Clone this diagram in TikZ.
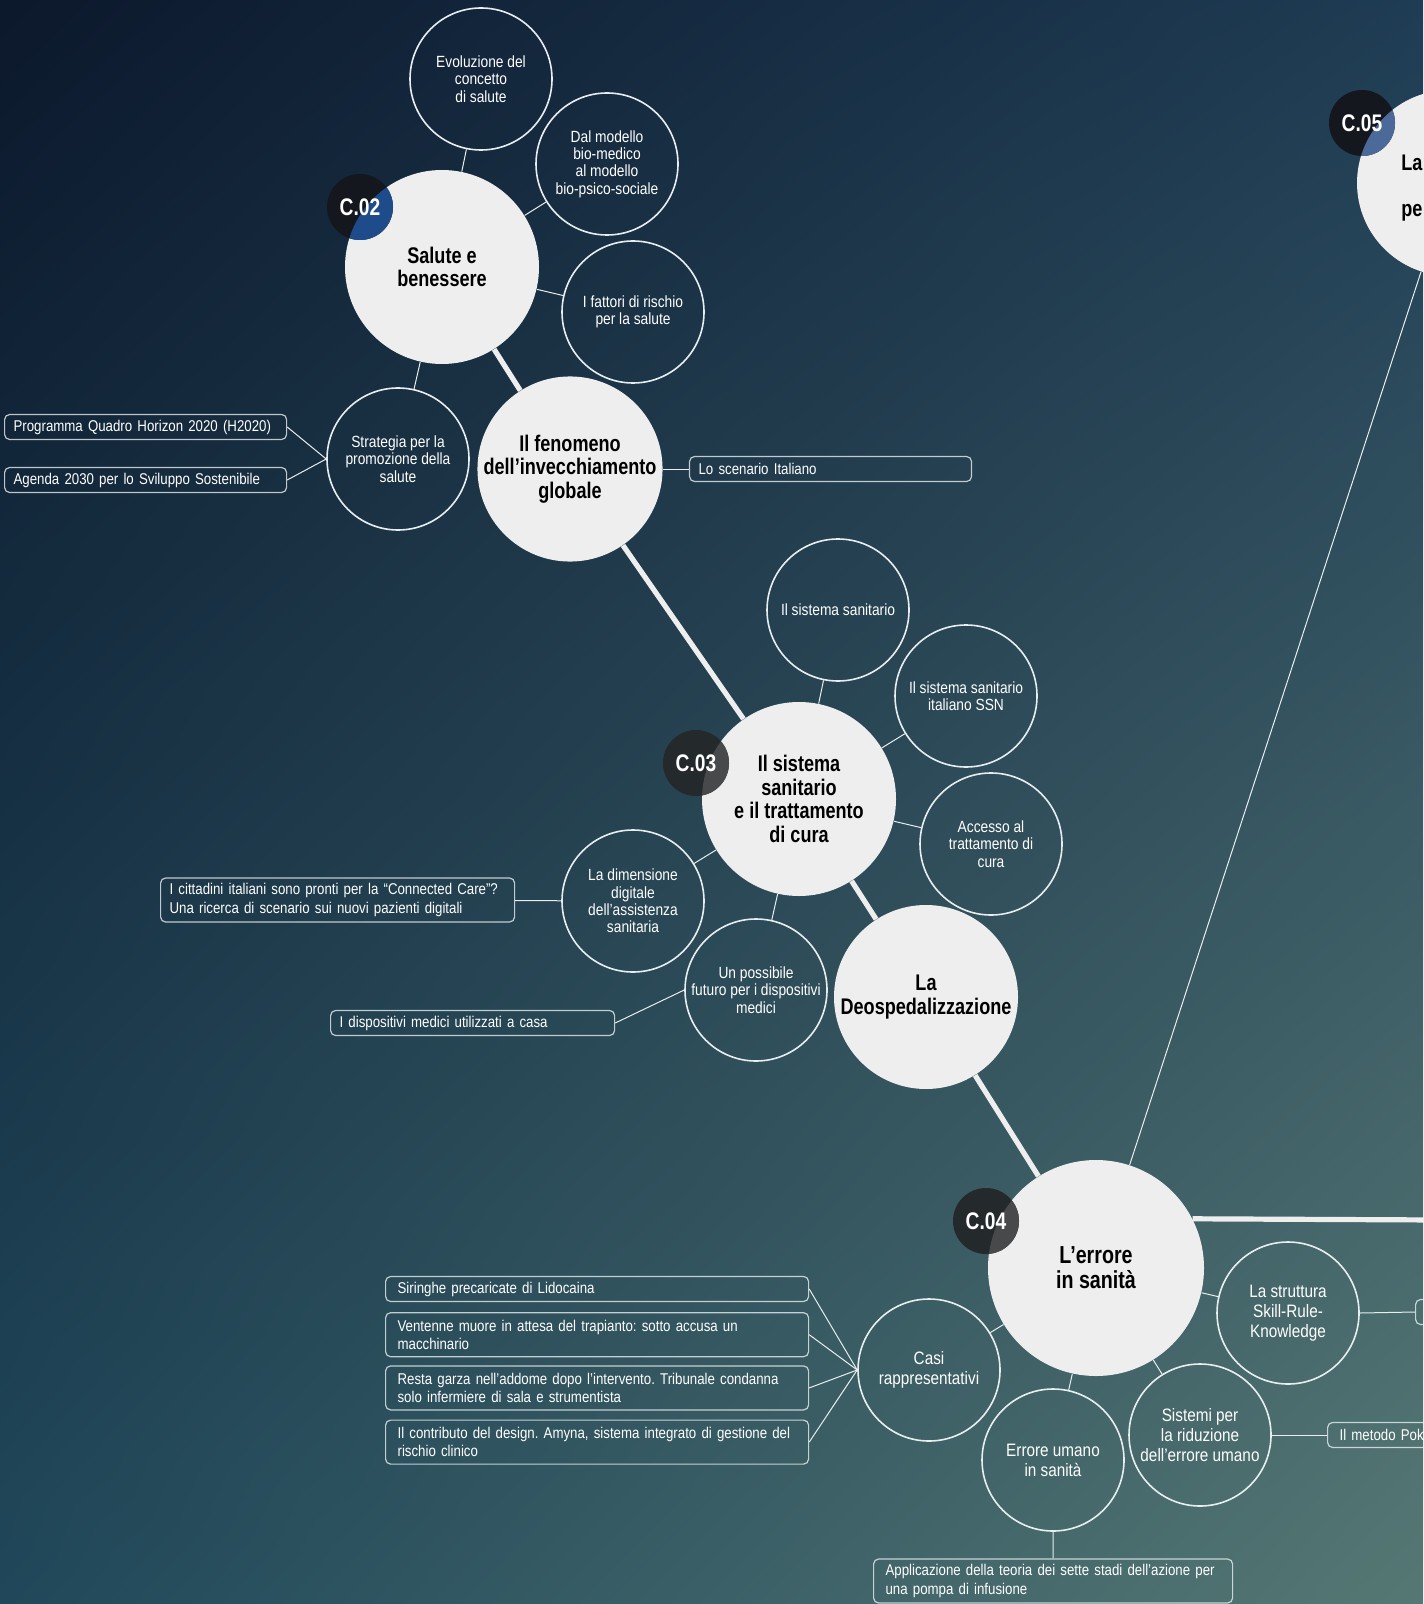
\documentclass[tikz,border=0pt]{standalone}
\usepackage{fontspec}
\setmainfont{Liberation Sans}[FakeStretch=0.85]
\newfontfamily\headfont{Liberation Sans}[FakeStretch=0.8]
\usetikzlibrary{positioning,calc,shadings}
\definecolor{bgTL}{RGB}{12,24,44}
\definecolor{bgTR}{RGB}{30,60,84}
\definecolor{bgBL}{RGB}{32,72,90}
\definecolor{bgBR}{RGB}{86,120,116}
\definecolor{cFill}{RGB}{238,238,238}
\definecolor{cLine}{RGB}{232,238,240}
\definecolor{bDark}{RGB}{20,23,30}
\definecolor{bGrey}{RGB}{36,41,43}
\definecolor{ovBlue}{RGB}{30,75,138}
\definecolor{ovSlate}{RGB}{75,106,154}
\definecolor{ovGrey}{RGB}{72,73,74}
\tikzset{
  chap/.style={circle, fill=cFill, minimum size=#1, inner sep=0pt, align=center,
               text=black, font=\headfont\bfseries\fontsize{11.3}{11.7}\selectfont},
  chap/.default=97pt,
  topic/.style={circle, draw=cLine, line width=0.8pt, minimum size=71pt, inner sep=0pt,
                align=center, text=white, font=\fontsize{8.1}{8.7}\selectfont},
  topicL/.style={topic, font=\fontsize{9}{9.9}\selectfont},
  refbox/.style={rectangle, rounded corners=2.5pt, draw=cLine, draw opacity=0.8,
                 line width=0.6pt, anchor=west, align=left, text=white,
                 inner xsep=4.5pt, inner ysep=0pt, minimum height=12.5pt,
                 font=\fontsize{7.8}{9.2}\selectfont\frenchspacing},
  refbox2/.style={refbox, minimum height=22pt},
  spine/.style={draw=cFill, line width=2.6pt},
  twig/.style={draw=cLine, line width=0.5pt},
  badge/.style={circle, fill=#1, minimum size=33pt, inner sep=0pt},
  badgetxt/.style={text=white, inner sep=0pt,
                   font=\headfont\bfseries\fontsize{12}{12}\selectfont},
}
% badge of a chapter: name, position, chapter node, chapter radius,
% badge colour, colour where it lies on the chapter, label
\newcommand{\ChapBadge}[7]{%
  \node[badge=#5] (#1) at (#2) {};
  \begin{scope}
    \clip (#3.center) circle[radius=#4];
    \fill[#6] (#1.center) circle[radius=16.5pt];
  \end{scope}
  \node[badgetxt] (#1-t) at (#1.center) {#7};}

\begin{document}
\begin{tikzpicture}[x=0.5pt, y=-0.5pt]

  \useasboundingbox (0,0) rectangle (1423,1604);
  \shade[upper left=bgTL, upper right=bgTR, lower left=bgBL, lower right=bgBR]
    (0,0) rectangle (1423,1604);

  %====================== CHAPTERS ======================
  \node[chap] (sal) at (442,267) {Salute e\\benessere};
  \node[chap=92pt] (fen) at (570,469) {Il fenomeno\\dell’invecchiamento\\globale};
  \node[chap] (cura) at (799,799) {Il sistema\\sanitario\\e il trattamento\\di cura};
  \node[chap=92pt] (deo) at (926,997) {La\\Deospedalizzazione};
  \node[chap=108pt, font=\headfont\bfseries\fontsize{12.3}{12.4}\selectfont]
    (err) at (1096,1268) {L’errore\\in sanità};
  \node[chap=93pt] (cap5) at (1450,183) {};
  \node[anchor=west, align=left, inner sep=0pt,
        font=\headfont\bfseries\fontsize{11.3}{11.7}\selectfont]
    (cap5-t) at (1401,188) {La\\[11.7pt]pe};

  %====================== C.02 SIDE ======================
  \node[topic] (evo) at (481,79) {Evoluzione del\\concetto\\di salute};
  \node[topic] (dal) at (607,164) {Dal modello\\bio-medico\\al modello\\bio-psico-sociale};
  \node[topic] (fat) at (633,312) {I fattori di rischio\\per la salute};
  \node[topic] (strat) at (398,459) {Strategia per la\\promozione della\\salute};

  \node[refbox, text width=132pt] (prog) at (4,427) {Programma Quadro Horizon 2020 (H2020)};
  \node[refbox, text width=132pt] (agen) at (4,480) {Agenda 2030 per lo Sviluppo Sostenibile};
  \node[refbox, text width=132pt, right=13pt of fen] (scen) {Lo scenario Italiano};

  %====================== C.03 SIDE ======================
  \node[topic] (sis) at (838,610) {Il sistema sanitario};
  \node[topic] (ssn) at (966,696) {Il sistema sanitario\\italiano SSN};
  \node[topic] (acc) at (991,844) {Accesso al\\trattamento di\\cura};
  \node[topic] (dim) at (633,901) {La dimensione\\digitale\\dell'assistenza\\sanitaria};
  \node[topic] (fut) at (756,990) {Un possibile\\futuro per i dispositivi\\medici};

  \node[refbox2, text width=168pt] (citt) at (160,900)
    {I cittadini italiani sono pronti per la “Connected Care”?\\
     Una ricerca di scenario sui nuovi pazienti digitali};
  \node[refbox, text width=133pt] (disp) at (330,1023) {I dispositivi medici utilizzati a casa};

  %====================== C.04 SIDE ======================
  \node[topicL] (skr) at (1288,1313) {La struttura\\Skill-Rule-\\Knowledge};
  \node[topicL] (cas) at (929,1370) {Casi\\rappresentativi};
  \node[topicL] (sid) at (1200,1435) {Sistemi per\\la riduzione\\dell'errore umano};
  \node[topicL] (eum) at (1053,1460) {Errore umano\\in sanità};

  \node[refbox, text width=199.5pt, inner xsep=6pt] (sir) at (385,1289)
    {Siringhe precaricate di Lidocaina};
  \node[refbox2, text width=199.5pt, inner xsep=6pt, below=5pt of sir.south west,
        anchor=north west] (ven)
    {Ventenne muore in attesa del trapianto: sotto accusa un\\macchinario};
  \node[refbox2, text width=199.5pt, inner xsep=6pt, below=4pt of ven.south west,
        anchor=north west] (res)
    {Resta garza nell'addome dopo l'intervento. Tribunale condanna\\solo infermiere di sala e strumentista};
  \node[refbox2, text width=199.5pt, inner xsep=6pt, below=4.5pt of res.south west,
        anchor=north west] (con)
    {Il contributo del design. Amyna, sistema integrato di gestione del\\rischio clinico};
  \node[refbox2, text width=167.5pt, inner xsep=6pt] (app) at (873,1581)
    {Applicazione della teoria dei sette stadi dell'azione per\\una pompa di infusione};
  \node[refbox, text width=100pt] (skrRef) at (1415,1312) {};
  \node[refbox, text width=100pt, inner xsep=6pt] (pok) at (1327,1435) {Il metodo Pok};

  %====================== CONNECTIONS ======================
  % main path between chapters
  \draw[spine] (sal) -- (fen);
  \draw[spine] (fen) -- (cura);
  \draw[spine] (cura) -- (deo);
  \draw[spine] (deo) -- (err);
  \coordinate (spineEnd) at (1440,1220);
  \draw[spine] (err.27) -- (spineEnd);
  \draw[twig] (err) -- (cap5);

  % C.02 topics and references
  \draw[twig] (evo) -- (sal);
  \draw[twig] (dal) -- (sal);
  \draw[twig] (fat) -- (sal);
  \draw[twig] (strat) -- (sal);
  \draw[twig] (prog.east) -- (strat.west);
  \draw[twig] (agen.east) -- (strat.west);
  \draw[twig] (fen) -- (scen);

  % C.03 topics and references
  \draw[twig] (sis) -- (cura);
  \draw[twig] (ssn) -- (cura);
  \draw[twig] (acc) -- (cura);
  \draw[twig] (dim) -- (cura);
  \draw[twig] (fut) -- (cura);
  \draw[twig] (dim) -- (citt);
  \draw[twig] (fut.west) -- (disp.east);

  % C.04 topics and references
  \draw[twig] (skr) -- (err);
  \draw[twig] (cas) -- (err);
  \draw[twig] (sid) -- (err);
  \draw[twig] (eum) -- (err);
  \foreach \c in {sir,ven,res,con}
    \draw[twig] (\c.east) -- (cas.west);
  \draw[twig] (eum) -- (app);
  \draw[twig] (skr.east) -- (skrRef.west);
  \draw[twig] (sid.east) -- (pok.west);

  %====================== BADGES ======================
  \ChapBadge{b02}{360,207}{sal}{48.5pt}{bDark}{ovBlue}{C.02}
  \ChapBadge{b03}{696,763}{cura}{48.5pt}{bGrey}{ovGrey}{C.03}
  \ChapBadge{b04}{986,1221}{err}{54pt}{bGrey}{ovGrey}{C.04}
  \ChapBadge{b05}{1362,123}{cap5}{46.5pt}{bDark}{ovSlate}{C.05}

\end{tikzpicture}
\end{document}
